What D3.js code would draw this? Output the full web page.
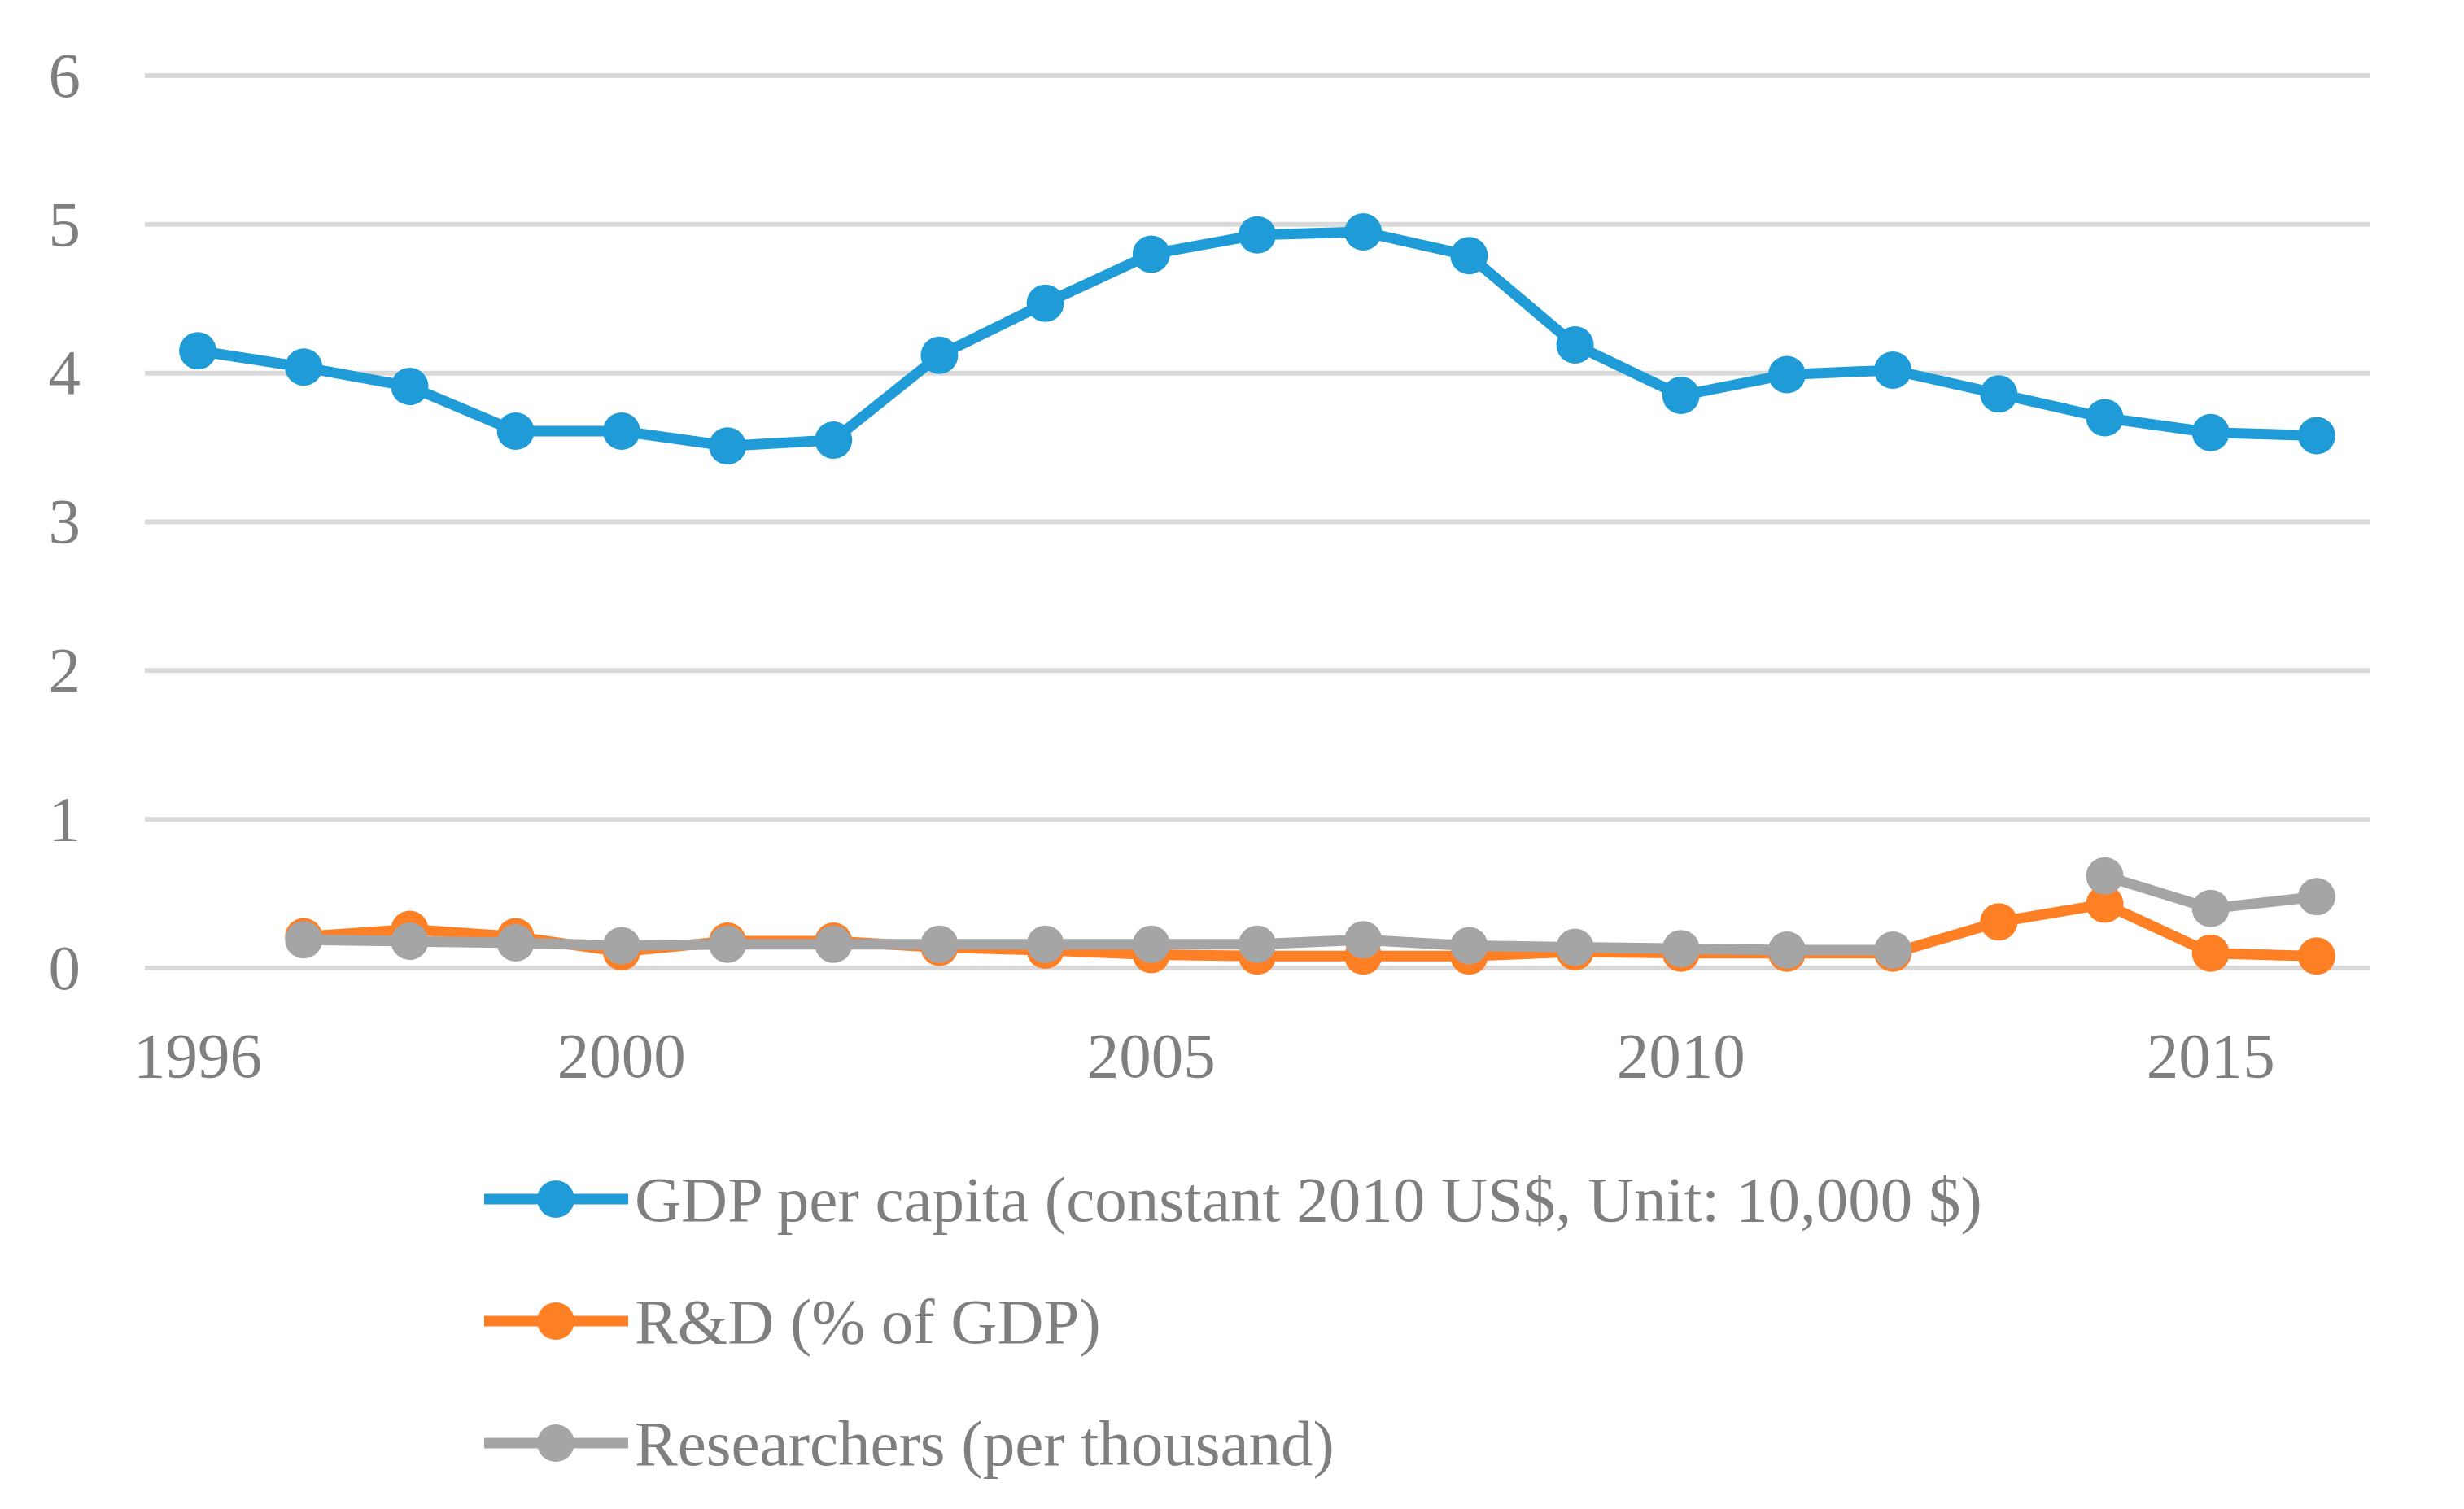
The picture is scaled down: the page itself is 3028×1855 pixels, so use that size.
<!DOCTYPE html>
<meta charset="utf-8">
<style>
    body { margin: 0; background: #fff; }
    text { font-family: "Palatino Linotype", "Book Antiqua", Palatino, "Liberation Serif", serif; fill: #7f7f7f; }
    .grid line { stroke: #d9d9d9; stroke-width: 6; }
</style>
<svg width="3028" height="1855"></svg>
<script src="https://d3js.org/d3.v7.min.js"></script>
<script>

    var years = [1996, 1997, 1998, 1999, 2000, 2001, 2002, 2003, 2004, 2005, 2006,
                 2007, 2008, 2009, 2010, 2011, 2012, 2013, 2014, 2015, 2016];
    var xTickLabels = [1996, 2000, 2005, 2010, 2015];
    var yTicks = [0, 1, 2, 3, 4, 5, 6];

    var gdp = [4.15, 4.04, 3.91, 3.61, 3.61, 3.51, 3.55, 4.12, 4.47, 4.80, 4.93,
               4.95, 4.79, 4.19, 3.85, 3.99, 4.02, 3.86, 3.70, 3.60, 3.58];
    var rnd = [null, 0.21, 0.26, 0.21, 0.11, 0.18, 0.18, 0.14, 0.12, 0.09, 0.08,
               0.08, 0.08, 0.11, 0.10, 0.10, 0.10, 0.31, 0.43, 0.10, 0.08];
    var researchers = [null, 0.19, 0.18, 0.17, 0.15, 0.16, 0.16, 0.16, 0.16, 0.16, 0.16,
                       0.19, 0.15, 0.14, 0.13, 0.12, 0.12, null, 0.62, 0.40, 0.48];

    var series = [
        {name: "GDP per capita (constant 2010 US$, Unit: 10,000 $)", values: gdp, color: "#1f9cd8"},
        {name: "R&D (% of GDP)", values: rnd, color: "#fe7f24"},
        {name: "Researchers (per thousand)", values: researchers, color: "#a5a5a5"}
    ];

    var svg = d3.select("svg"),
        plotLeft = 178, plotRight = 2912, plotTop = 93, plotBottom = 1190;

    var x = d3.scaleBand().domain(years).range([plotLeft, plotRight]),
        y = d3.scaleLinear().domain([0, 6]).range([plotBottom, plotTop]);

    var fontSize = 79;

    // gridlines
    svg.append("g").attr("class", "grid")
        .selectAll("line").data(yTicks).enter().append("line")
        .attr("x1", plotLeft).attr("x2", plotRight)
        .attr("y1", function(d) { return y(d); })
        .attr("y2", function(d) { return y(d); });

    // y axis labels
    var yAxis = svg.append("g")
        .attr("transform", "translate(" + plotLeft + ",0)")
        .call(d3.axisLeft(y).tickValues(yTicks).tickFormat(d3.format("d")).tickSize(0).tickPadding(79));
    yAxis.select(".domain").remove();
    yAxis.attr("font-family", null);
    yAxis.selectAll("text")
        .attr("font-size", fontSize)
        .attr("dy", "0.32em");

    // x axis labels
    var xAxis = svg.append("g")
        .attr("transform", "translate(0," + plotBottom + ")")
        .call(d3.axisBottom(x).tickValues(xTickLabels).tickSize(0).tickPadding(0));
    xAxis.select(".domain").remove();
    xAxis.attr("font-family", null);
    xAxis.selectAll("text")
        .attr("font-size", fontSize)
        .attr("y", 107)
        .attr("dy", "0.34em");

    var line = d3.line()
        .defined(function(d) { return d.v != null; })
        .x(function(d) { return x(d.year) + x.bandwidth() / 2; })
        .y(function(d) { return y(d.v); });

    series.forEach(function(s) {
        var pts = years.map(function(yr, i) { return {year: yr, v: s.values[i]}; });
        var g = svg.append("g");
        g.append("path")
            .datum(pts)
            .attr("fill", "none")
            .attr("stroke", s.color)
            .attr("stroke-width", 13)
            .attr("stroke-linejoin", "round")
            .attr("d", line);
        g.selectAll("circle")
            .data(pts.filter(function(d) { return d.v != null; }))
            .enter().append("circle")
            .attr("cx", function(d) { return x(d.year) + x.bandwidth() / 2; })
            .attr("cy", function(d) { return y(d.v); })
            .attr("r", 23)
            .attr("fill", s.color);
    });

    // legend
    var legend = svg.append("g");
    series.forEach(function(s, i) {
        var ly = 1474 + i * 150;
        legend.append("line")
            .attr("x1", 595).attr("x2", 772)
            .attr("y1", ly).attr("y2", ly)
            .attr("stroke", s.color).attr("stroke-width", 13);
        legend.append("circle")
            .attr("cx", 683).attr("cy", ly).attr("r", 23)
            .attr("fill", s.color);
        legend.append("text")
            .attr("x", 780).attr("y", ly)
            .attr("dy", "0.34em")
            .attr("font-size", fontSize)
            .text(s.name);
    });

</script>
